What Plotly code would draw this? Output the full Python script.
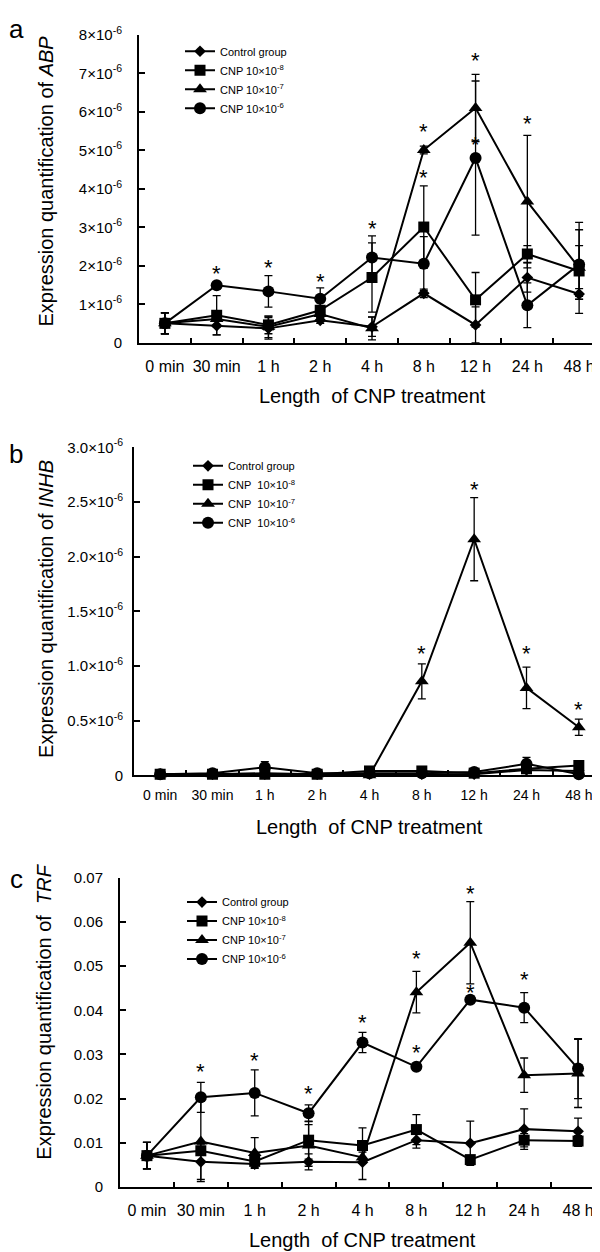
import plotly.graph_objects as go

# ---------------- data ----------------
categories = ["0 min", "30 min", "1 h", "2 h", "4 h", "8 h", "12 h", "24 h", "48 h"]
series_names = ["Control group", "CNP 10×10<sup>-8</sup>", "CNP 10×10<sup>-7</sup>", "CNP 10×10<sup>-6</sup>"]
series_names_b = ["Control group", "CNP&nbsp;&nbsp;10×10<sup>-8</sup>", "CNP&nbsp;&nbsp;10×10<sup>-7</sup>",
                  "CNP&nbsp;&nbsp;10×10<sup>-6</sup>"]
series_symbols = ["diamond", "square", "triangle-up", "circle"]
series_sizes = [9, 11, 12, 12]

# Panel a: ABP (units of 10^-6)
abp_control = [0.51, 0.45, 0.38, 0.59, 0.42, 1.29, 0.47, 1.70, 1.27]
abp_cnp8 = [0.51, 0.72, 0.47, 0.85, 1.70, 3.01, 1.12, 2.31, 1.87]
abp_cnp7 = [0.51, 0.62, 0.42, 0.75, 0.38, 5.01, 6.10, 3.67, 1.95]
abp_cnp6 = [0.51, 1.50, 1.34, 1.15, 2.22, 2.06, 4.80, 0.98, 2.04]
abp_control_err = [0.27, 0.24, 0.28, 0.08, 0.25, 0.11, 0.47, 0.38, 0.14]
abp_cnp8_err = [0.27, 0.51, 0.23, 0.20, 0.90, 1.07, 0.71, 0.22, 0.66]
abp_cnp7_err = [0.27, 0.20, 0.28, 0.10, 0.30, 0.10, 0.87, 1.72, 1.18]
abp_cnp6_err = [0.27, 0.05, 0.41, 0.28, 0.56, 0.70, 2.00, 0.58, 0.90]
abp_star_x = ["30 min", "1 h", "2 h", "4 h", "8 h", "8 h", "12 h", "12 h", "24 h"]
abp_star_y = [1.95, 2.12, 1.74, 3.14, 5.65, 4.46, 7.49, 5.31, 5.86]
abp_tickvals = [0, 1, 2, 3, 4, 5, 6, 7, 8]
abp_ticktext = ["0", "1×10<sup>-6</sup>", "2×10<sup>-6</sup>", "3×10<sup>-6</sup>", "4×10<sup>-6</sup>",
                "5×10<sup>-6</sup>", "6×10<sup>-6</sup>", "7×10<sup>-6</sup>", "8×10<sup>-6</sup>"]

# Panel b: INHB (units of 10^-6)
inhb_control = [0.01, 0.01, 0.01, 0.01, 0.01, 0.01, 0.01, 0.05, 0.04]
inhb_cnp8 = [0.01, 0.01, 0.01, 0.01, 0.04, 0.04, 0.02, 0.06, 0.09]
inhb_cnp7 = [0.01, 0.01, 0.02, 0.01, 0.00, 0.86, 2.16, 0.80, 0.44]
inhb_cnp6 = [0.01, 0.02, 0.075, 0.02, 0.02, 0.02, 0.03, 0.105, 0.01]
inhb_control_err = [0.005, 0.005, 0.005, 0.005, 0.005, 0.005, 0.005, 0.02, 0.02]
inhb_cnp8_err = [0.005, 0.005, 0.005, 0.005, 0.01, 0.01, 0.01, 0.02, 0.02]
inhb_cnp7_err = [0.005, 0.005, 0.01, 0.005, 0.005, 0.16, 0.38, 0.19, 0.075]
inhb_cnp6_err = [0.005, 0.01, 0.05, 0.01, 0.01, 0.01, 0.01, 0.06, 0.01]
inhb_star_x = ["8 h", "12 h", "24 h", "48 h"]
inhb_star_y = [1.165, 2.67, 1.165, 0.66]
inhb_tickvals = [0, 0.5, 1.0, 1.5, 2.0, 2.5, 3.0]
inhb_ticktext = ["0", "0.5×10<sup>-6</sup>", "1.0×10<sup>-6</sup>", "1.5×10<sup>-6</sup>",
                 "2.0×10<sup>-6</sup>", "2.5×10<sup>-6</sup>", "3.0×10<sup>-6</sup>"]

# Panel c: TRF
trf_control = [0.0071, 0.0057, 0.0052, 0.0057, 0.0056, 0.0106, 0.0099, 0.0131, 0.0126]
trf_cnp8 = [0.0071, 0.0082, 0.0058, 0.0106, 0.0094, 0.0130, 0.0062, 0.0106, 0.0104]
trf_cnp7 = [0.0071, 0.0103, 0.0077, 0.0094, 0.0067, 0.0441, 0.0553, 0.0253, 0.0257]
trf_cnp6 = [0.0071, 0.0203, 0.0213, 0.0167, 0.0327, 0.0272, 0.0424, 0.0406, 0.0268]
trf_control_err = [0.0030, 0.0040, 0.0008, 0.0018, 0.0039, 0.0018, 0.0050, 0.0046, 0.0030]
trf_cnp8_err = [0.0030, 0.0010, 0.0008, 0.0043, 0.0040, 0.0034, 0.0008, 0.0015, 0.0012]
trf_cnp7_err = [0.0030, 0.0091, 0.0035, 0.0047, 0.0012, 0.0047, 0.0093, 0.0039, 0.0077]
trf_cnp6_err = [0.0030, 0.0034, 0.0052, 0.0019, 0.0023, 0.0008, 0.0008, 0.0034, 0.0068]
trf_star_x = ["30 min", "1 h", "2 h", "4 h", "8 h", "8 h", "12 h", "12 h", "24 h"]
trf_star_y = [0.0274, 0.0300, 0.0225, 0.0387, 0.0530, 0.0318, 0.0679, 0.0454, 0.0484]
trf_tickvals = [0, 0.01, 0.02, 0.03, 0.04, 0.05, 0.06, 0.07]
trf_ticktext = ["0", "0.01", "0.02", "0.03", "0.04", "0.05", "0.06", "0.07"]

y_titles = ["Expression quantification of <i>ABP</i>",
            "Expression quantification of <i>INHB</i>",
            "Expression quantification of&nbsp; <i>TRF</i>"]
x_title = "Length&nbsp; of CNP treatment"
panel_letters = ["a", "b", "c"]

# ---------------- figure ----------------
W, H = 600, 1252
FONT = "Arial, Liberation Sans, sans-serif"

def px_x(v):
    return v / W

def px_y(v):
    return 1 - v / H

panels = [
    dict(values=[abp_control, abp_cnp8, abp_cnp7, abp_cnp6],
         errs=[abp_control_err, abp_cnp8_err, abp_cnp7_err, abp_cnp6_err],
         names=series_names,
         stars=(abp_star_x, abp_star_y), ticks=(abp_tickvals, abp_ticktext), yr=[0, 8],
         left=131, top=16, bottom=329, legend_xy=(172, 18), ytick_size=15, ystand=12,
         ytitle_xy=(38, 165), xtitle_y=383, letter_xy=(8, 10), xtick_size=16, xstand=8),
    dict(values=[inhb_control, inhb_cnp8, inhb_cnp7, inhb_cnp6],
         errs=[inhb_control_err, inhb_cnp8_err, inhb_cnp7_err, inhb_cnp6_err],
         names=series_names_b,
         stars=(inhb_star_x, inhb_star_y), ticks=(inhb_tickvals, inhb_ticktext), yr=[0, 3],
         left=126, top=435, bottom=768, legend_xy=(180, 439), ytick_size=15, ystand=6,
         ytitle_xy=(38, 599), xtitle_y=820, letter_xy=(8, 442), xtick_size=14, xstand=6),
    dict(values=[trf_control, trf_cnp8, trf_cnp7, trf_cnp6],
         errs=[trf_control_err, trf_cnp8_err, trf_cnp7_err, trf_cnp6_err],
         names=series_names,
         stars=(trf_star_x, trf_star_y), ticks=(trf_tickvals, trf_ticktext), yr=[0, 0.07],
         left=112, top=872, bottom=1186, legend_xy=(174, 882), ytick_size=15, ystand=12,
         ytitle_xy=(36, 1008), xtitle_y=1240, letter_xy=(8, 873), xtick_size=16, xstand=8),
]

fig = go.Figure()
annotations = []
layout = dict(width=W, height=H, margin=dict(l=0, r=0, t=0, b=0),
              paper_bgcolor="white", plot_bgcolor="white",
              font=dict(family=FONT, color="black"), showlegend=True)

for i, p in enumerate(panels):
    sfx = "" if i == 0 else str(i + 1)
    xa, ya = "x" + sfx, "y" + sfx
    leg = "legend" + sfx
    for k in range(4):
        fig.add_trace(go.Scatter(
            x=categories, y=p["values"][k], xaxis=xa, yaxis=ya, legend=leg,
            name=p["names"][k], mode="lines+markers", cliponaxis=False,
            line=dict(color="black", width=2),
            marker=dict(symbol=series_symbols[k], size=series_sizes[k], color="black"),
            error_y=dict(type="data", array=p["errs"][k], visible=True,
                         color="black", thickness=1.3, width=4),
        ))
    layout["xaxis" + sfx] = dict(
        domain=[px_x(p["left"]), px_x(597)], anchor=ya, type="category",
        categoryorder="array", categoryarray=categories, range=[-0.5, 8.5],
        showline=True, linecolor="black", linewidth=2, showgrid=False, zeroline=False,
        ticks="inside", tickson="boundaries", ticklen=5, tickwidth=1.5, tickcolor="black",
        tickangle=0,
        tickfont=dict(size=p["xtick_size"], family=FONT, color="black"),
        ticklabelstandoff=p["xstand"], fixedrange=True)
    layout["yaxis" + sfx] = dict(
        domain=[px_y(p["bottom"]), px_y(p["top"])], anchor=xa, range=p["yr"],
        tickmode="array", tickvals=p["ticks"][0], ticktext=p["ticks"][1],
        showline=True, linecolor="black", linewidth=2, showgrid=False, zeroline=False,
        ticks="inside", ticklen=6, tickwidth=1.5, tickcolor="black",
        tickfont=dict(size=p["ytick_size"], family=FONT, color="black"),
        ticklabelstandoff=p["ystand"], fixedrange=True)
    layout[leg] = dict(x=px_x(p["legend_xy"][0]), y=px_y(p["legend_xy"][1]),
                       xanchor="left", yanchor="top", bgcolor="rgba(0,0,0,0)",
                       font=dict(size=11, family=FONT, color="black"), itemwidth=30)
    for sx, sy in zip(*p["stars"]):
        annotations.append(dict(x=sx, y=sy, xref=xa, yref=ya, text="*", showarrow=False,
                                font=dict(size=22, family=FONT, color="black"), yshift=-6))
    annotations.append(dict(x=px_x(p["ytitle_xy"][0]), y=px_y(p["ytitle_xy"][1]),
                            xref="paper", yref="paper", text=y_titles[i], textangle=-90,
                            showarrow=False, xanchor="center", yanchor="middle",
                            font=dict(size=20, family=FONT, color="black")))
    annotations.append(dict(x=(p["left"] + 597) / 2 / W, y=px_y(p["xtitle_y"]),
                            xref="paper", yref="paper", text=x_title,
                            showarrow=False, xanchor="center", yanchor="middle",
                            font=dict(size=20, family=FONT, color="black")))
    annotations.append(dict(x=px_x(p["letter_xy"][0]), y=px_y(p["letter_xy"][1]),
                            xref="paper", yref="paper", text=panel_letters[i],
                            showarrow=False, xanchor="center", yanchor="middle",
                            font=dict(size=26, family=FONT, color="black")))

layout["annotations"] = annotations
fig.update_layout(**layout)
fig.write_html("out.html")
